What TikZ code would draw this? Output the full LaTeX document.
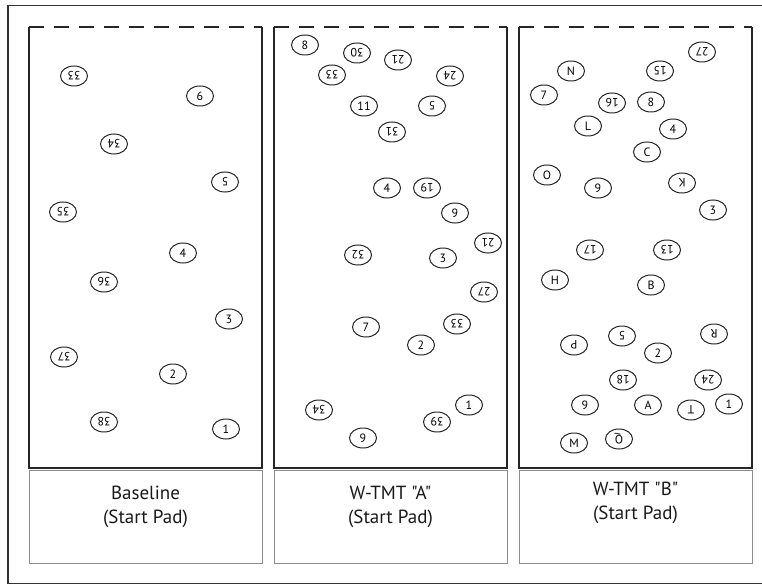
\documentclass[tikz,border=0pt]{standalone}
\usepackage{fontspec}
\setmainfont{PT Sans}[Ligatures=TeXOff]
\usetikzlibrary{shapes.geometric}

\tikzset{
  disc/.style={ellipse, draw=black!85, line width=1pt, minimum width=27pt,
    minimum height=20pt, inner sep=0pt, font=\fontsize{12}{12}\selectfont},
  discflip/.style={disc, rotate=180},
  panelside/.style={draw=black!85, line width=2pt},
  paneltop/.style={draw=black!85, line width=2pt, dash pattern=on 15pt off 10pt},
  labelbox/.style={draw=black!45, line width=1pt},
  caption/.style={align=center, font=\fontsize{19}{24}\selectfont, text=black!90},
  frame/.style={draw=black!80, line width=1.3pt}
}

\begin{document}
\begin{tikzpicture}[x=1pt, y=-1pt]
  \useasboundingbox (0,0) rectangle (762,585);

  % outer frame (open on the right)
  \draw[frame] (762,5.5) -- (8,5.5) -- (8,583.5) -- (762,583.5);

  % three test sheets: solid sides, dashed top edge, caption box below
  \foreach \L/\R/\n in {29/262/1, 274/507/2, 519/752/3}{
    \draw[panelside] (\L,27) -- (\L,468) -- (\R,468) -- (\R,27);
    \draw[paneltop] (\L,27) -- (\R,27);
    \draw[labelbox] (\L,470) rectangle (\R,563);
  }

  % captions
  \node[caption] (capa) at (145.5,507) {Baseline\\(Start Pad)};
  \node[caption] (capb) at (390.5,507) {W-TMT "A"\\(Start Pad)};
  \node[caption] (capc) at (635.5,503) {W-TMT "B"\\(Start Pad)};

  % Baseline targets
  \foreach \s/\t/\x/\y [count=\i] in {
    discflip/33/74/76, disc/6/200/96, discflip/34/114/144, discflip/5/225/182,
    discflip/35/63/212, disc/4/183/253, discflip/36/104/282, disc/3/229/319,
    discflip/37/64/357, disc/2/173/374, discflip/38/104/422, disc/1/226/429}
    \node[\s] (ta\i) at (\x,\y) {\t};

  % W-TMT "A" targets
  \foreach \s/\t/\x/\y [count=\i] in {
    disc/8/305/45, discflip/30/357/53, discflip/21/398/60, discflip/33/332/75,
    discflip/24/450/76, disc/11/364/106, discflip/5/432/106, discflip/31/392/132,
    disc/4/387/188, discflip/19/427/188, disc/9/455/213, discflip/21/488/243,
    discflip/32/358/255, disc/3/443/258, discflip/27/484/292, discflip/33/457/324,
    disc/7/366/327, disc/2/421/345, disc/1/469/405, discflip/39/437/422,
    discflip/34/319/410, disc/9/363/438}
    \node[\s] (tb\i) at (\x,\y) {\t};

  % W-TMT "B" targets
  \foreach \s/\t/\x/\y [count=\i] in {
    discflip/27/702/52, disc/N/571/71, discflip/15/660/71, disc/7/544/95,
    discflip/16/612/103, disc/8/651/102, disc/L/588/126, disc/4/673/129,
    disc/C/647/152, disc/O/547/175, disc/9/598/188, discflip/K/682/183,
    disc/3/713/210, discflip/17/590/250, discflip/13/667/250, disc/H/555/280,
    disc/B/651/285, discflip/R/714/334, discflip/P/574/345, discflip/5/622/336,
    disc/2/658/353, discflip/18/623/380, discflip/24/708/380, disc/9/585/405,
    disc/A/648/405, discflip/T/691/410, disc/1/729/404, disc/M/574/443,
    discflip/Q/619/439}
    \node[\s] (tc\i) at (\x,\y) {\t};
\end{tikzpicture}
\end{document}
